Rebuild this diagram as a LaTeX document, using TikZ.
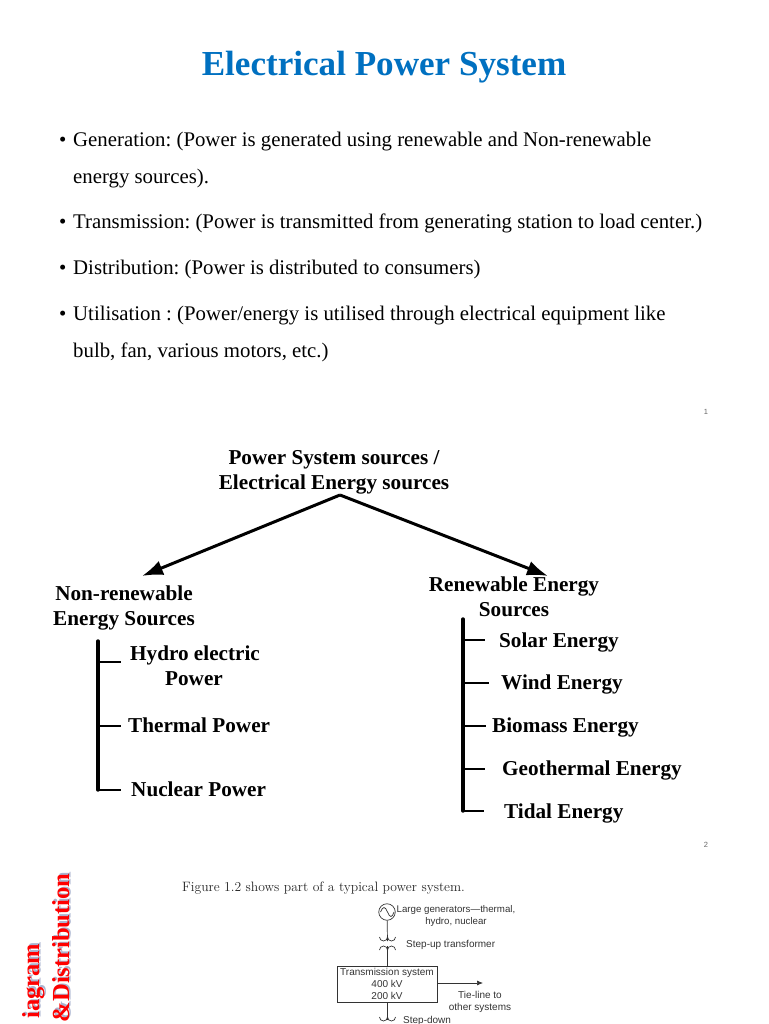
\documentclass[tikz,border=0pt]{standalone}
\usepackage{fontspec}
\setmainfont{Liberation Serif}
\newfontfamily\figsans{Liberation Sans}
\newfontfamily\figroman{Latin Modern Roman}
\usetikzlibrary{arrows.meta}
\definecolor{titleblue}{HTML}{0070C0}
\definecolor{shadowblue}{HTML}{A9B4D0}
\frenchspacing
\begin{document}
\begin{tikzpicture}[x=1pt, y=-1pt,
    slidetitle/.style={anchor=base, inner sep=0pt, text=titleblue, font=\fontsize{35.1}{40}\selectfont\bfseries},
    bulletline/.style={anchor=base west, inner sep=0pt, font=\fontsize{20.8}{24}\selectfont},
    pagenum/.style={anchor=center, inner sep=0pt, text=black!60, font=\figsans\fontsize{7.5}{8}\selectfont},
    head/.style={anchor=center, inner sep=0pt, align=center, font=\fontsize{21.2}{25}\selectfont\bfseries},
    leaf/.style={anchor=base west, inner sep=0pt, align=center, font=\fontsize{21.2}{25}\selectfont\bfseries},
    bigarrow/.style={line width=3pt, -{Latex[length=21pt,width=15pt]}},
    trunk/.style={line width=3.4pt, line cap=round},
    branch/.style={line width=2.6pt},
    sidetext/.style={inner sep=0pt, rotate=90, text=red, font=\fontsize{24.5}{28}\selectfont\bfseries},
    sideshadow/.style={inner sep=0pt, rotate=90, text=shadowblue, font=\fontsize{24.5}{28}\selectfont\bfseries},
    figlabel/.style={inner sep=0pt, align=center, text=black!80, font=\figsans\fontsize{10}{12}\selectfont},
    figline/.style={line width=0.7pt, black!80}
]
\useasboundingbox (0,0) rectangle (768,1024);
\clip (0,0) rectangle (768,1024);

% Slide 1
\node[slidetitle] (title) at (384,76) {Electrical Power System};
\node[bulletline] (b1) at (59,147) {•};
\node[bulletline] (gen) at (73,147) {Generation: (Power is generated using renewable and Non-renewable};
\node[bulletline] (gen2) at (73,184) {energy sources).};
\node[bulletline] (b2) at (59,229) {•};
\node[bulletline] (trans) at (73,229) {Transmission: (Power is transmitted from generating station to load center.)};
\node[bulletline] (b3) at (59,274.5) {•};
\node[bulletline] (dist) at (73,274.5) {Distribution: (Power is distributed to consumers)};
\node[bulletline] (b4) at (59,320) {•};
\node[bulletline] (util) at (73,320) {Utilisation : (Power/energy is utilised through electrical equipment like};
\node[bulletline] (util2) at (73,357) {bulb, fan, various motors, etc.)};
\node[pagenum] (num1) at (706,412) {1};

% Slide 2
\node[head] (src) at (334,472) {Power System sources /\\Electrical Energy sources};
\node[head] (nonren) at (124,608) {Non-renewable\\Energy Sources};
\node[head] (ren) at (514,597) {Renewable Energy\\Sources};
\coordinate (apex) at (340,495);
\coordinate (nontip) at (142,576);
\coordinate (rentip) at (548,576);
\draw[bigarrow] (apex) -- (nontip);
\draw[bigarrow] (apex) -- (rentip);

% Non-renewable
\node[leaf] (hydro) at (130,660) {Hydro electric};
\node[leaf, anchor=base] (hydro2) at (194,685) {Power};
\node[leaf] (thermal) at (128,732) {Thermal Power};
\node[leaf] (nuclear) at (131,796) {Nuclear Power};
\coordinate (ntop) at (98,641);
\coordinate (nbot) at (98,790);
\coordinate (n1) at (121,662);
\coordinate (n2) at (121,726);
\coordinate (n3) at (121,790);
\draw[trunk] (ntop) -- (nbot);
\draw[branch] (ntop |- n1) -- (n1);
\draw[branch] (ntop |- n2) -- (n2);
\draw[branch] (nbot) -- (n3);

% Renewable
\node[leaf] (solar) at (499,647) {Solar Energy};
\node[leaf] (wind) at (501,689) {Wind Energy};
\node[leaf] (biomass) at (492,732) {Biomass Energy};
\node[leaf] (geo) at (502,775) {Geothermal Energy};
\node[leaf] (tidal) at (504,818) {Tidal Energy};
\coordinate (rtop) at (463,619);
\coordinate (rbot) at (463,811);
\coordinate (r1) at (485,640);
\coordinate (r2) at (489,683);
\coordinate (r3) at (486,726);
\coordinate (r4) at (485,769);
\coordinate (r5) at (484,811);
\draw[trunk] (rtop) -- (rbot);
\draw[branch] (rtop |- r1) -- (r1);
\draw[branch] (rtop |- r2) -- (r2);
\draw[branch] (rtop |- r3) -- (r3);
\draw[branch] (rtop |- r4) -- (r4);
\draw[branch] (rbot) -- (r5);
\node[pagenum] (num2) at (706,845) {2};

% Slide 3
\node[sideshadow, anchor=north east] at (23.5,942) {iagram};
\node[sidetext, anchor=north east] (diag) at (22,943.5) {iagram};
\node[sideshadow, anchor=north east] at (53.5,872) {\&Distribution};
\node[sidetext, anchor=north east] (distrib) at (52,873.5) {\&Distribution};
\node[inner sep=0pt, anchor=base west, text=black!85, font=\figroman\fontsize{13.6}{16}\selectfont] (fig) at (182,891) {Figure 1.2 shows part of a typical power system.};

\node[draw=black!80, line width=0.7pt, circle, minimum size=16.5pt, inner sep=0pt] (genr) at (387,912) {};
\draw[figline] (380.5,912) .. controls (383,906) and (385,906) .. (387.5,912) .. controls (390,918) and (392,918) .. (394,912);
\node[figlabel, anchor=base, font=\figsans\fontsize{9.7}{12}\selectfont] (large) at (456,924) {Large generators—thermal,\\hydro, nuclear};
\coordinate (upa) at (387.5,941);
\coordinate (upb) at (387.5,946);
\draw[figline] (genr) -- (upa);
\draw[figline] (379.5,937) arc[start angle=180, end angle=360, radius=4pt];
\draw[figline] (387.5,937) arc[start angle=180, end angle=360, radius=4pt];
\draw[figline] (379.5,950) arc[start angle=180, end angle=0, radius=4pt];
\draw[figline] (387.5,950) arc[start angle=180, end angle=0, radius=4pt];
\node[figlabel, anchor=base west] (stepup) at (406,947) {Step-up transformer};
\node[figlabel, draw=black!80, line width=0.7pt, minimum width=100pt, minimum height=36pt] (tsys) at (387,984) {Transmission system\\400 kV\\200 kV};
\draw[figline] (upb) -- (tsys.north -| upb);
\coordinate (tietip) at (483,983);
\draw[figline, -{Latex[length=6pt,width=5pt]}] (tsys.east |- tietip) -- (tietip);
\node[figlabel] (tie) at (480,1001.5) {Tie-line to\\other systems};
\coordinate (downa) at (387.5,1020);
\draw[figline] (tsys.south -| downa) -- (downa);
\draw[figline] (379.5,1017) arc[start angle=180, end angle=360, radius=4pt];
\draw[figline] (387.5,1017) arc[start angle=180, end angle=360, radius=4pt];
\node[figlabel, anchor=base west] (stepdown) at (403,1023) {Step-down};
\end{tikzpicture}
\end{document}
